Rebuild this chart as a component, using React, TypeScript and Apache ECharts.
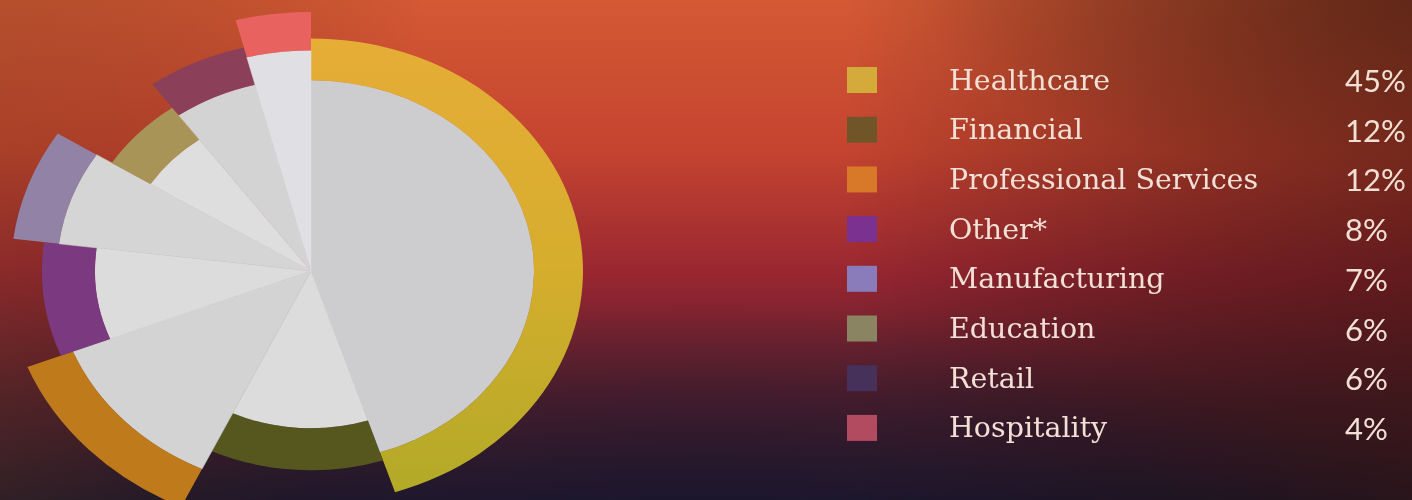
import React, { useEffect, useRef } from "react";
import * as echarts from "echarts";

// ---- data ----
const categories = [
  "Healthcare",
  "Financial",
  "Professional Services",
  "Other*",
  "Manufacturing",
  "Education",
  "Retail",
  "Hospitality",
];
const shares = [45, 12, 12, 8, 7, 6, 6, 4];
const shareLabels = ["45%", "12%", "12%", "8%", "7%", "6%", "6%", "4%"];

// ---- styles ----
const innerRadius = [223, 184, 256, 216, 254, 190, 225, 258];
const outerRadius = [272, 233, 305, 269, 300, 236, 270, 303];
const grays = ["#cdcdcf", "#dcdcdc", "#d3d3d3", "#dcdcdc", "#d5d5d5", "#dedede", "#d3d3d3", "#e0e0e4"];
const ringColors: any[] = [
  {
    type: "linear", x: 0, y: 0, x2: 0, y2: 1,
    colorStops: [
      { offset: 0, color: "#e6ad37" },
      { offset: 0.5, color: "#d6ad2d" },
      { offset: 1, color: "#b2aa27" },
    ],
  },
  "#55571f",
  "#bf7a1c",
  "#7b3a80",
  "#9282a6",
  "#a99457",
  "#8b3f58",
  "#e86260",
];
const swatchColors = ["#d4aa3a", "#6f5528", "#d8792a", "#7a3190", "#8a7bbb", "#8b8462", "#45315a", "#b34b60"];

const W = 1412;
const H = 500;
const CX = 311;
const CY = 271;
const SY = 0.855;

export default function App() {
  const ref = useRef<HTMLDivElement>(null);
  useEffect(() => {
    if (!ref.current) return;
    const chart = echarts.init(ref.current, null, { renderer: "svg" });
    const total = shares.reduce((a, b) => a + b, 0);
    const starts: number[] = [];
    let acc = 0;
    shares.forEach((v) => {
      starts.push(acc);
      acc += v;
    });

    const graphics: any[] = [
      {
        type: "rect", z: -10, silent: true,
        shape: { x: 0, y: 0, width: W, height: H },
        style: {
          fill: {
            type: "linear", x: 0, y: 0, x2: 0, y2: 1,
            colorStops: [
              { offset: 0, color: "#d45934" },
              { offset: 0.3, color: "#c4442f" },
              { offset: 0.55, color: "#982631" },
              { offset: 0.8, color: "#4e1f2c" },
              { offset: 1, color: "#231a2c" },
            ],
          },
        },
      },
      {
        type: "rect", z: -9, silent: true,
        shape: { x: 0, y: 0, width: W, height: H },
        style: {
          fill: {
            type: "linear", x: 0, y: 0, x2: 1, y2: 0,
            colorStops: [
              { offset: 0, color: "rgba(90,50,20,0.25)" },
              { offset: 0.3, color: "rgba(0,0,0,0)" },
              { offset: 0.6, color: "rgba(0,0,0,0)" },
              { offset: 1, color: "rgba(45,15,10,0.5)" },
            ],
          },
        },
      },
      {
        type: "rect", z: -8, silent: true,
        shape: { x: 0, y: 0, width: W, height: H },
        style: {
          fill: {
            type: "radial", x: 1, y: 0, r: 0.35,
            colorStops: [
              { offset: 0, color: "rgba(60,25,15,0.45)" },
              { offset: 1, color: "rgba(60,25,15,0)" },
            ],
          },
        },
      },
      {
        type: "rect", z: -8, silent: true,
        shape: { x: 0, y: 0, width: W, height: H },
        style: {
          fill: {
            type: "radial", x: 0.5, y: 1.05, r: 0.45,
            colorStops: [
              { offset: 0, color: "rgba(20,18,45,0.55)" },
              { offset: 1, color: "rgba(20,18,45,0)" },
            ],
          },
        },
      },
    ];

    const rowY0 = 80;
    const rowGap = 49.7;
    categories.forEach((name, i) => {
      const y = rowY0 + i * rowGap;
      graphics.push({
        type: "rect",
        shape: { x: 847, y: y - 13, width: 30, height: 26 },
        style: { fill: swatchColors[i] },
      });
      graphics.push({
        type: "text",
        x: 949, y: y,
        style: {
          text: name,
          fill: "#f2e0d6",
          font: "28.5px 'DejaVu Serif'",
          textVerticalAlign: "middle",
          textAlign: "left",
        },
      });
      graphics.push({
        type: "text",
        x: 1345, y: y,
        style: {
          text: shareLabels[i],
          fill: "#f2e0d6",
          font: "31px Lato",
          textVerticalAlign: "middle",
          textAlign: "left",
        },
      });
    });

    chart.setOption({
      animation: false,
      graphic: graphics,
      series: [
        {
          type: "custom",
          coordinateSystem: "none",
          data: shares.map((v) => [v]),
          renderItem: (params: any, api: any) => {
            const i = params.dataIndex;
            const v = api.value(0);
            const s = (starts[i] / total) * 360;
            const e = s + (v / total) * 360;
            const a0 = ((s - 90) * Math.PI) / 180;
            const a1 = ((e - 90) * Math.PI) / 180;
            return {
              type: "group",
              x: CX,
              y: CY,
              scaleY: SY,
              children: [
                {
                  type: "sector",
                  shape: { cx: 0, cy: 0, r0: 0, r: innerRadius[i], startAngle: a0, endAngle: a1, clockwise: true },
                  style: { fill: grays[i], stroke: grays[i], lineWidth: 0.6 },
                },
                {
                  type: "sector",
                  shape: { cx: 0, cy: 0, r0: innerRadius[i], r: outerRadius[i], startAngle: a0, endAngle: a1, clockwise: true },
                  style: { fill: ringColors[i] },
                },
              ],
            };
          },
        },
      ],
    });
    return () => chart.dispose();
  }, []);
  return (
    <div
      ref={ref}
      style={{ position: "fixed", left: 0, top: 0, width: W, height: H }}
    />
  );
}
